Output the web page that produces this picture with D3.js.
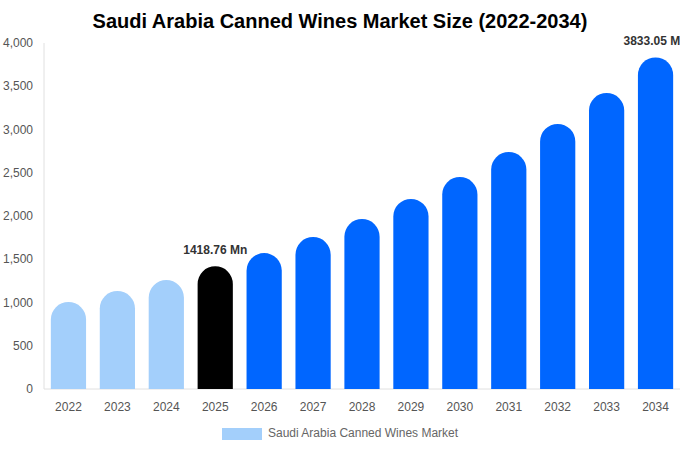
<!DOCTYPE html>
<html><head><meta charset="utf-8">
<script src="https://cdn.jsdelivr.net/npm/d3@7"></script>
<style>body{margin:0;background:#fff;font-family:"Liberation Sans",Arial,sans-serif}</style>
</head><body><div id="chart"></div>
<script>
const years = ["2022","2023","2024","2025","2026","2027","2028","2029","2030","2031","2032","2033","2034"];
const values = [1006,1133,1260,1418.76,1572,1757,1965,2197,2451,2740,3064,3422,3833.05];
const yTicks = [0,500,1000,1500,2000,2500,3000,3500,4000];
const seriesName = "Saudi Arabia Canned Wines Market";

const W = 680, H = 450;
const margin = {top: 43, right: 0, bottom: 61, left: 44};
const svg = d3.select("#chart").append("svg").attr("width", W).attr("height", H);

svg.append("text").attr("x", 340).attr("y", 28).attr("text-anchor", "middle")
  .attr("font-size", 20).attr("font-weight", "bold").attr("fill", "#000")
  .text("Saudi Arabia Canned Wines Market Size (2022-2034)");

const x = d3.scaleBand().domain(years).range([margin.left, W - margin.right]).paddingInner(0.28).paddingOuter(0.14);
const y = d3.scaleLinear().domain([0, 4000]).range([H - margin.bottom, margin.top]);

svg.append("line").attr("x1", margin.left).attr("x2", margin.left)
  .attr("y1", margin.top).attr("y2", y(0)).attr("stroke", "#e0e0e0");
svg.append("line").attr("x1", margin.left).attr("x2", W)
  .attr("y1", y(0)).attr("y2", y(0)).attr("stroke", "#e0e0e0");

svg.selectAll("text.yt").data(yTicks).enter().append("text")
  .attr("class", "yt").attr("x", 33).attr("y", d => y(d) + 4)
  .attr("text-anchor", "end").attr("font-size", 12).attr("fill", "#555")
  .text(d => d3.format(",")(d));

svg.selectAll("text.xt").data(years).enter().append("text")
  .attr("class", "xt").attr("x", d => x(d) + x.bandwidth() / 2).attr("y", 411)
  .attr("text-anchor", "middle").attr("font-size", 12).attr("fill", "#555").text(d => d);

const color = (i) => i < 3 ? "#a3cffb" : i === 3 ? "#000000" : "#0066ff";
const bw = x.bandwidth(), r = bw / 2;
svg.selectAll("path.bar").data(values).enter().append("path")
  .attr("class", "bar")
  .attr("fill", (d, i) => color(i))
  .attr("d", (d, i) => {
    const x0 = x(years[i]), yt = y(d), yb = y(0);
    return `M${x0},${yb} L${x0},${yt + r} A${r},${r} 0 0 1 ${x0 + bw},${yt + r} L${x0 + bw},${yb} Z`;
  });

[3, 12].forEach(i => {
  svg.append("text").attr("x", x(years[i]) + bw / 2).attr("y", y(values[i]) - 12)
    .attr("text-anchor", "middle").attr("font-size", 12).attr("font-weight", "bold").attr("fill", "#333")
    .text(values[i].toFixed(2) + " Mn");
});

svg.append("rect").attr("x", 222).attr("y", 428).attr("width", 40).attr("height", 12).attr("fill", "#a3cffb");
svg.append("text").attr("x", 268).attr("y", 437).attr("font-size", 12).attr("fill", "#666").text(seriesName);
</script></body></html>
